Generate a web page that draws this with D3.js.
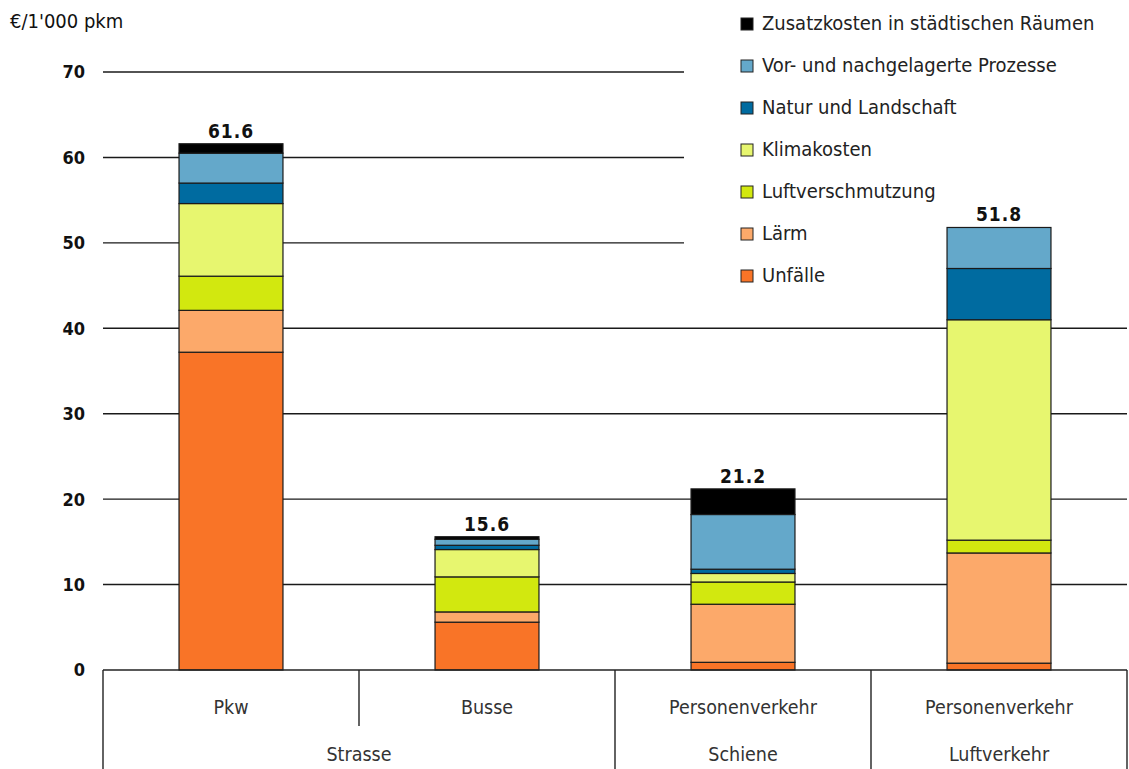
<!DOCTYPE html>
<html><head><meta charset="utf-8">
<script src="https://cdn.jsdelivr.net/npm/d3@7"></script>
<style>
html,body{margin:0;padding:0;background:#fff;}
text{font-family:"DejaVu Sans Condensed","DejaVu Sans",sans-serif;}
</style></head>
<body><svg id="chart" width="1129" height="769"></svg>
<script>
const categories = ["Pkw", "Busse", "Personenverkehr Schiene", "Personenverkehr Luftverkehr"];
const rowLabels = ["Pkw", "Busse", "Personenverkehr", "Personenverkehr"];
const groupLabels = [
  {label: "Strasse", from: 0, to: 1},
  {label: "Schiene", from: 2, to: 2},
  {label: "Luftverkehr", from: 3, to: 3}
];
const seriesNames = ["Unfälle", "Lärm", "Luftverschmutzung", "Klimakosten", "Natur und Landschaft", "Vor- und nachgelagerte Prozesse", "Zusatzkosten in städtischen Räumen"];
const seriesColors = ["#F97427", "#FCA96A", "#D2E80F", "#E7F66F", "#006BA0", "#64A8CA", "#000000"];
const unfaelle   = [37.2, 5.6, 0.9, 0.8];
const laerm      = [4.9, 1.2, 6.8, 12.9];
const luft       = [4.0, 4.1, 2.6, 1.5];
const klima      = [8.5, 3.2, 1.0, 25.8];
const natur      = [2.4, 0.5, 0.5, 6.0];
const vorNach    = [3.5, 0.7, 6.4, 4.8];
const zusatz     = [1.1, 0.3, 3.0, 0.0];
const totals     = ["61.6", "15.6", "21.2", "51.8"];
const yTicks     = [0, 10, 20, 30, 40, 50, 60, 70];
const unitLabel  = "€/1'000 pkm";

const seriesValues = [unfaelle, laerm, luft, klima, natur, vorNach, zusatz];
const svg = d3.select("#chart");

const x = d3.scaleBand().domain(categories).range([103, 1127]).paddingInner(0.594).paddingOuter(0.297);
const y = d3.scaleLinear().domain([0, 70]).range([670, 72]);

// gridlines
svg.append("g").selectAll("line").data(yTicks.filter(d => d > 0)).join("line")
  .attr("x1", 103).attr("x2", 1127)
  .attr("y1", d => y(d)).attr("y2", d => y(d))
  .attr("stroke", "#1a1a1a").attr("stroke-width", 1.4);

// white backdrop of the legend (hides gridlines on the right)
svg.append("rect").attr("x", 684).attr("y", 0).attr("width", 445).attr("height", 290).attr("fill", "#fff");

// y tick labels
svg.append("g").selectAll("text").data(yTicks).join("text")
  .attr("x", 85).attr("y", d => y(d)).attr("dy", "0.36em")
  .attr("text-anchor", "end").attr("font-weight", "bold").attr("font-size", 18).attr("fill", "#111")
  .text(d => d);

svg.append("text").attr("x", 10).attr("y", 28).attr("font-size", 20).attr("fill", "#111").text(unitLabel);

// stacks
const rows = categories.map((c, i) => {
  const o = {cat: c};
  seriesNames.forEach((s, j) => o[s] = seriesValues[j][i]);
  return o;
});
const stacked = d3.stack().keys(seriesNames)(rows);

svg.append("g").selectAll("g").data(stacked).join("g")
  .attr("fill", (d, i) => seriesColors[i])
  .selectAll("rect").data(d => d.filter(p => p[1] - p[0] > 0)).join("rect")
  .attr("x", d => x(d.data.cat)).attr("width", x.bandwidth())
  .attr("y", d => y(d[1])).attr("height", d => y(d[0]) - y(d[1]))
  .attr("stroke", "#1a1a1a").attr("stroke-width", 1.2);

// totals
svg.append("g").selectAll("text").data(categories).join("text")
  .attr("x", d => x(d) + x.bandwidth() / 2)
  .attr("y", (d, i) => y(d3.sum(seriesValues, s => s[i])) - 6)
  .attr("text-anchor", "middle").attr("font-weight", "bold").attr("font-size", 19)
  .attr("letter-spacing", 1).attr("fill", "#111")
  .text((d, i) => totals[i]);

// legend
const legendItems = seriesNames.map((n, i) => ({name: n, color: seriesColors[i]})).reverse();
const lg = svg.append("g").selectAll("g").data(legendItems).join("g")
  .attr("transform", (d, i) => `translate(741, ${18 + i * 42})`);
lg.append("rect").attr("width", 12).attr("height", 12)
  .attr("fill", d => d.color).attr("stroke", "#222").attr("stroke-width", 1);
lg.append("text").attr("x", 21).attr("y", 12).attr("font-size", 20).attr("fill", "#222").text(d => d.name);

// category table
const step = x.step();
const left = 103;
const edge = i => left + i * step;
const tbl = svg.append("g").attr("stroke", "#222").attr("stroke-width", 1.4);
tbl.append("line").attr("x1", 103).attr("x2", 1127).attr("y1", y(0)).attr("y2", y(0));
const vlines = [{i: 0, full: true}, {i: 1, full: false}, {i: 2, full: true}, {i: 3, full: true}, {i: 4, full: true}];
tbl.selectAll("line.v").data(vlines).join("line").attr("class", "v")
  .attr("x1", d => edge(d.i)).attr("x2", d => edge(d.i))
  .attr("y1", y(0)).attr("y2", d => d.full ? 769 : 726);

svg.append("g").selectAll("text").data(categories).join("text")
  .attr("x", d => x(d) + x.bandwidth() / 2).attr("y", 714)
  .attr("text-anchor", "middle").attr("font-size", 19.5).attr("fill", "#333")
  .text((d, i) => rowLabels[i]);
svg.append("g").selectAll("text").data(groupLabels).join("text")
  .attr("x", d => (edge(d.from) + edge(d.to + 1)) / 2).attr("y", 761)
  .attr("text-anchor", "middle").attr("font-size", 19.5).attr("fill", "#333")
  .text(d => d.label);
</script></body></html>
